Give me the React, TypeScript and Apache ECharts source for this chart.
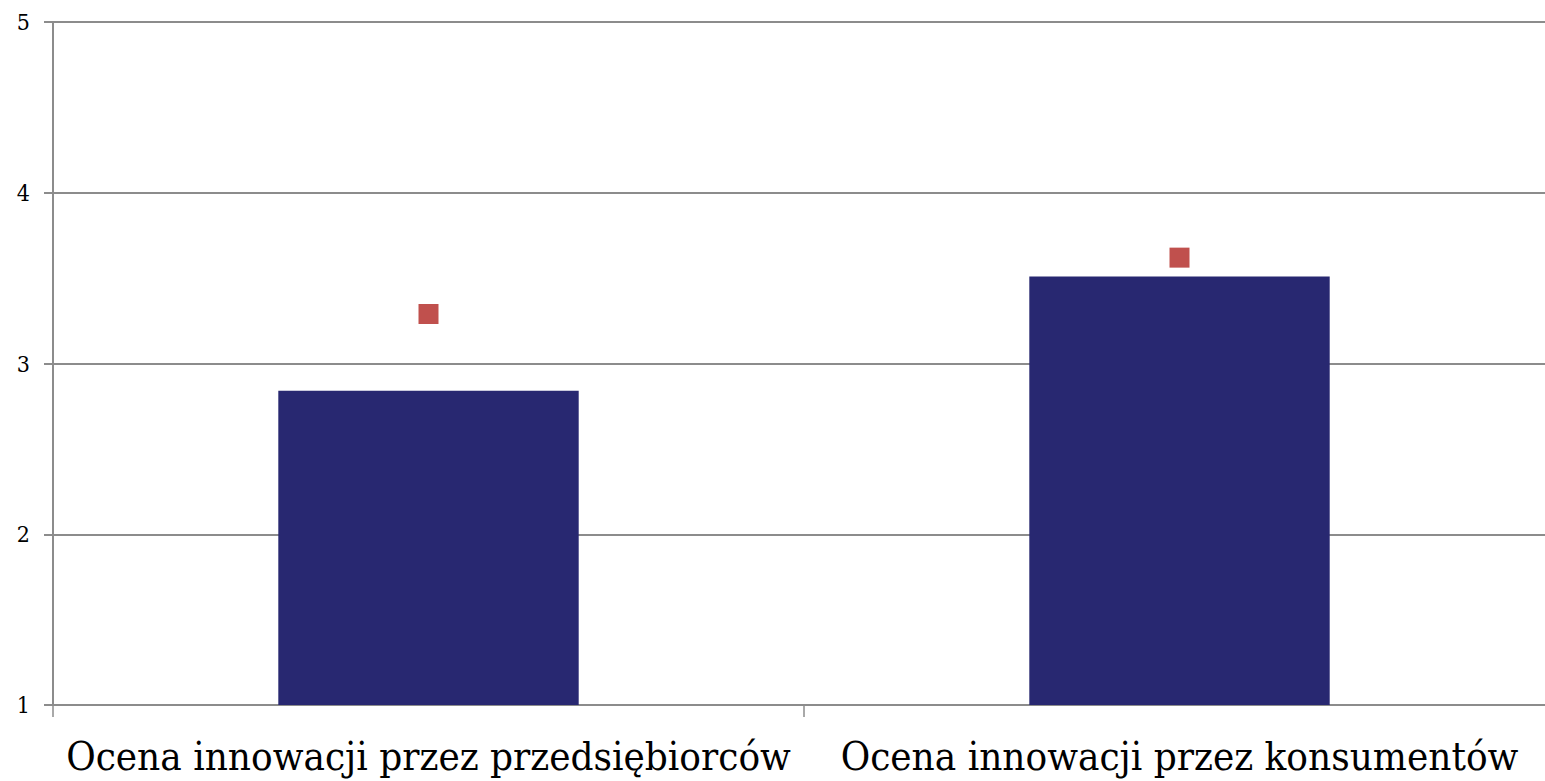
import React, { useEffect, useRef } from "react";
import * as echarts from "echarts";

const categories = ["Ocena innowacji przez przedsiębiorców", "Ocena innowacji przez konsumentów"];
const barValues = [2.84, 3.51];
const markerValues = [3.29, 3.62];

export default function App() {
  const ref = useRef<HTMLDivElement>(null);
  useEffect(() => {
    if (!ref.current) return;
    const chart = echarts.init(ref.current, undefined, { renderer: "svg" });
    chart.setOption({
      animation: false,
      grid: { left: 53, right: 5, top: 22, bottom: 76, containLabel: false, outerBoundsMode: "none" },
      xAxis: {
        type: "category",
        data: categories,
        boundaryGap: true,
        axisLine: { show: true, lineStyle: { color: "#8c8c8c", width: 2 } },
        axisTick: { show: true, length: 12, lineStyle: { color: "#8c8c8c", width: 1.5 } },
        axisLabel: {
          fontFamily: "DejaVu Serif Condensed",
          fontSize: 40,
          color: "#000",
          margin: 31,
          interval: 0,
          hideOverlap: false,
        },
      },
      yAxis: {
        type: "value",
        min: 1,
        max: 5,
        interval: 1,
        axisLine: { show: true, lineStyle: { color: "#8c8c8c", width: 2 } },
        axisTick: { show: true, length: 9, lineStyle: { color: "#8c8c8c", width: 2 } },
        splitLine: { show: true, lineStyle: { color: "#8c8c8c", width: 2 } },
        axisLabel: {
          fontFamily: "DejaVu Serif Condensed",
          fontSize: 23,
          color: "#000",
          margin: 23,
        },
      },
      series: [
        {
          type: "bar",
          data: barValues,
          barWidth: "40%",
          itemStyle: { color: "#282871" },
        },
        {
          type: "scatter",
          data: markerValues,
          symbol: "rect",
          symbolSize: 20,
          itemStyle: { color: "#C0504D", opacity: 1 },
        },
      ],
    });
    return () => chart.dispose();
  }, []);
  return (
    <div style={{ position: "absolute", left: 0, top: 0, width: 1545, height: 781, overflow: "hidden" }}>
      <div ref={ref} style={{ position: "absolute", left: 0, top: 0, width: 1560, height: 781 }} />
    </div>
  );
}
